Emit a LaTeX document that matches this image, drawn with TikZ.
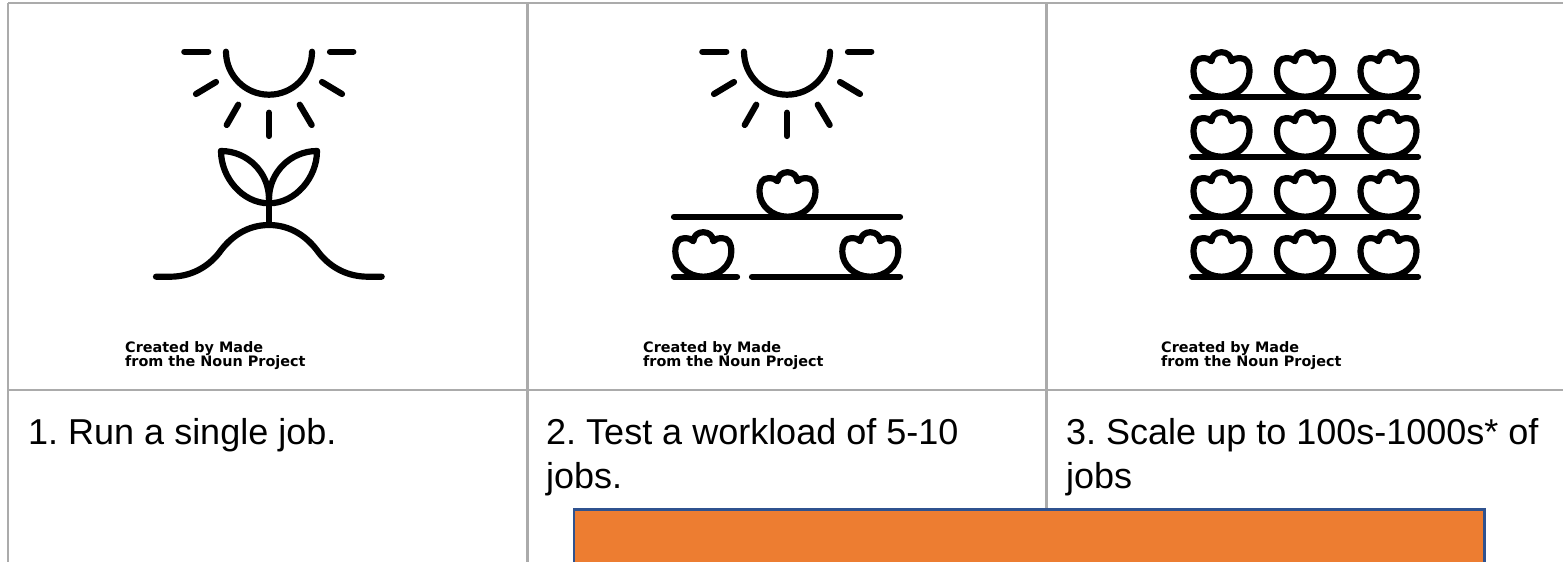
\documentclass[tikz,border=0pt]{standalone}
\usepackage{fontspec}
\setmainfont{Liberation Sans}
\newfontfamily\creditfont{DejaVu Sans}
\definecolor{gridgray}{HTML}{ABABAB}
\definecolor{boxorange}{HTML}{ED7D31}
\definecolor{boxblue}{HTML}{2F528F}
\tikzset{
 gridline/.style={draw=gridgray,line width=2.2pt},
 ink/.style={draw=black,line width=6.2pt,line cap=round,line join=round},
 celltext/.style={anchor=base west,inner sep=0pt,font=\fontsize{36}{40}\selectfont},
 credit/.style={anchor=base west,inner sep=0pt,font=\creditfont\bfseries\fontsize{14.4}{14}\selectfont},
 pics/bud/.style={code={
  \draw[ink,fill=white] (0,0) .. controls (-15,0) and (-28,-11) .. (-28,-25)
   .. controls (-28,-34) and (-25,-38.5) .. (-19,-38.5)
   .. controls (-15,-38.5) and (-12,-38) .. (-10,-35.5)
   .. controls (-9.5,-41) and (-5.5,-44.5) .. (0,-44.5)
   .. controls (5.5,-44.5) and (9.5,-41) .. (10,-35.5)
   .. controls (12,-38) and (15,-38.5) .. (19,-38.5)
   .. controls (25,-38.5) and (28,-34) .. (28,-25)
   .. controls (28,-11) and (15,0) .. (0,0) -- cycle;
 }},
 pics/sunicon/.style={code={
  \draw[ink] (-43,0) arc[start angle=180,end angle=360,x radius=43,y radius=-43];
  \draw[ink] (-84.7,0) -- (-60.7,0);
  \draw[ink] (61,0) -- (84.3,0);
  \draw[ink] (-73,42.3) -- (-53,30.3);
  \draw[ink] (73,42.3) -- (53,30.3);
  \draw[ink] (-42.3,73.3) -- (-30.7,53);
  \draw[ink] (42.7,73.3) -- (30.7,53);
  \draw[ink] (0,61) -- (0,84.3);
 }}
}
\begin{document}
\frenchspacing
\begin{tikzpicture}[x=1pt,y=-1pt]
\useasboundingbox (0,0) rectangle (1563,562);
\fill[white] (0,0) rectangle (1563,562);
% table grid
\coordinate (tl) at (8,3); \coordinate (tr) at (1563,3);
\coordinate (ml) at (8,390); \coordinate (mr) at (1563,390);
\coordinate (bl) at (8,562);
\draw[gridline] (tl) -- (tr);
\draw[gridline] (ml) -- (mr);
\draw[gridline] (tl) -- (bl);
\draw[gridline] (527.5,3) -- (527.5,562);
\draw[gridline] (1046.5,3) -- (1046.5,510);
% column 1
\pic at (269,51.7) {sunicon};
\draw[ink] (221,151) .. controls (247.5,151) and (269,172.5) .. (269,199);
\draw[ink] (221,151) .. controls (221,177.5) and (242.5,203.3) .. (269,203.3);
\draw[ink] (317,151) .. controls (290.5,151) and (269,172.5) .. (269,199);
\draw[ink] (317,151) .. controls (317,177.5) and (295.5,203.3) .. (269,203.3);
\draw[ink,line cap=butt] (269,190) -- (269,226);
\draw[ink] (156,276.7) -- (170,276.7) .. controls (190,276.7) and (207,268) .. (219,253)
 .. controls (231,236) and (248,225) .. (269,225)
 .. controls (290,225) and (307,236) .. (319,253)
 .. controls (331,268) and (348,276.7) .. (368,276.7) -- (381.7,276.7);
% column 2
\pic at (787,51.7) {sunicon};
\pic at (787.5,216.7) {bud};
\pic at (703.3,276.7) {bud};
\pic at (870.3,276.7) {bud};
\draw[ink] (674,216.7) -- (900,216.7);
\draw[ink] (674,276.7) -- (737,276.7);
\draw[ink] (752,276.7) -- (900,276.7);
% column 3
\foreach \ypos in {96.7,156.7,216.7,276.7}{
 \foreach \xpos in {1221.5,1305,1388.5}{
  \pic at (\xpos,\ypos) {bud};
 }
 \draw[ink] (1192,\ypos) -- (1418,\ypos);
}
% credits
\node[credit] (c1a) at (125,352) {Created by Made};
\node[credit] (c1b) at (125,366) {from the Noun Project};
\node[credit] (c2a) at (643,352) {Created by Made};
\node[credit] (c2b) at (643,366) {from the Noun Project};
\node[credit] (c3a) at (1161,352) {Created by Made};
\node[credit] (c3b) at (1161,366) {from the Noun Project};
% cell text
\node[celltext] (t1) at (28,444) {1. Run a single job.};
\node[celltext] (t2a) at (546,444) {2. Test a workload of 5-10};
\node[celltext] (t2b) at (546,488) {jobs.};
\node[celltext] (t3a) at (1066,444) {3. Scale up to 100s-1000s* of};
\node[celltext] (t3b) at (1066,488) {jobs};
% orange box
\draw[draw=boxblue,fill=boxorange,line width=2.4pt] (574,509.5) rectangle (1484.5,570);
\end{tikzpicture}
\end{document}
